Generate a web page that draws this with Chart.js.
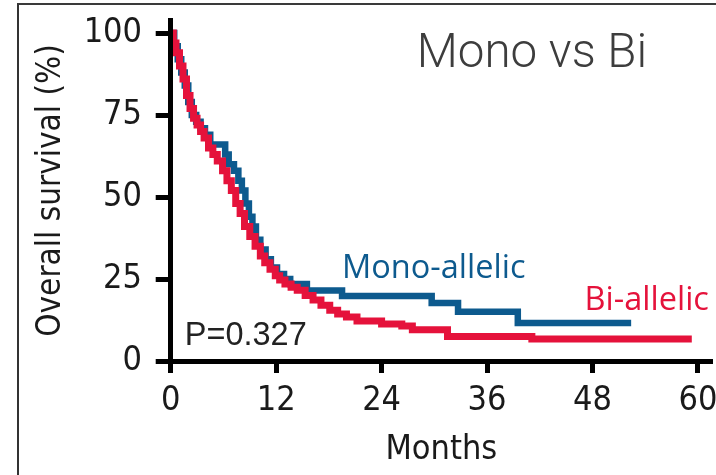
<!DOCTYPE html>
<html>
<head>
<meta charset="utf-8">
<script src="https://cdn.jsdelivr.net/npm/chart.js@4.4.1/dist/chart.umd.min.js"></script>
<style>
  html, body { margin: 0; padding: 0; background: #fff; overflow: hidden; }
  #frame { position: absolute; left: 17px; top: 3px; width: 800px; height: 600px;
           border-top: 2px solid #3a3a3a; border-left: 2px solid #333; }
  #wrap { position: absolute; left: 0; top: 0; width: 716px; height: 475px; }
</style>
</head>
<body>
<div id="frame"></div>
<div id="wrap"><canvas id="kmChart" width="716" height="475"></canvas></div>
<script>
// Kaplan-Meier: tháng theo dõi và % sống còn
const monoMonths = [0, 0.4, 0.8, 1.2, 1.6, 2.0, 2.4, 2.9, 3.4, 3.9, 4.5, 6.2, 6.6, 7.2, 7.7, 8.1, 8.5, 8.9, 9.3, 9.7, 10.2, 10.8, 11.4, 12.1, 12.9, 13.6, 15.5, 19.5, 29.7, 32.7, 39.5, 52.4];
const monoSurv   = [100, 96, 92, 88, 84, 79, 75, 73, 71, 69, 66, 63, 60, 58, 55, 52, 48, 44, 41, 37, 34, 31, 28.5, 26.5, 25, 23.5, 21.5, 19.8, 17.7, 15, 11.6, 11.6];

const biMonths = [0, 0.3, 0.6, 1.0, 1.4, 1.8, 2.2, 2.6, 3.0, 3.4, 3.8, 4.3, 4.8, 5.3, 5.9, 6.4, 6.9, 7.4, 7.9, 8.4, 9.0, 9.6, 10.2, 10.7, 11.3, 11.9, 12.4, 13.0, 13.7, 14.4, 15.3, 16.2, 17.1, 18.1, 19.0, 20.0, 21.2, 24.0, 26.3, 27.5, 31.5, 41.1, 59.3];
const biSurv   = [100, 97, 94, 90, 86, 81, 77, 74, 72, 70, 68, 65, 63, 61, 58, 55, 52, 48, 45, 41, 38, 35, 32, 30, 28, 26, 24.7, 23.5, 22.5, 21.6, 20, 18.6, 17, 15.5, 14.3, 13.4, 12.2, 11.3, 10.7, 9.5, 7.5, 6.7, 6.7];

const xTicks = [0, 12, 24, 36, 48, 60];
const yTicks = [0, 25, 50, 75, 100];

const toPoints = (xs, ys) => xs.map((x, i) => ({ x: x, y: ys[i] }));

const axisFont = { family: "'DejaVu Sans Condensed', 'Liberation Sans Narrow', 'DejaVu Sans', sans-serif", size: 34 };
const titleFont = { family: "'DejaVu Sans Condensed', 'Liberation Sans Narrow', 'DejaVu Sans', sans-serif", size: 33 };
const blue = "#0d5a8e";
const red = "#e5123b";

// ===== Chữ chú thích trên biểu đồ =====
const textLabels = {
    id: "textLabels",
    afterDatasetsDraw(chart) {
        const { ctx, scales: { x, y } } = chart;
        const put = (text, mx, vy, font, color) => {
            ctx.font = font;
            ctx.fillStyle = color;
            ctx.fillText(text, x.getPixelForValue(mx), y.getPixelForValue(vy));
        };
        ctx.save();
        ctx.textAlign = "left";
        ctx.textBaseline = "alphabetic";
        put("Mono vs Bi", 28.0, 89.6, "300 47.5px Roboto", "#3d3d3d");
        put("Mono-allelic", 19.5, 25.3, "32.5px 'Open Sans'", blue);
        put("Bi-allelic", 47.1, 15.5, "32.5px 'Open Sans'", red);
        put("P=0.327", 1.6, 4.9, "32.5px 'Liberation Sans'", "#222");
        ctx.restore();
    }
};

const ctx = document.getElementById("kmChart").getContext("2d");

new Chart(ctx, {
    type: "line",
    data: {
        datasets: [{
            label: "Bi-allelic",
            data: toPoints(biMonths, biSurv),
            borderColor: red,
            borderWidth: 7,
            stepped: true,
            pointRadius: 0,
            fill: false,
            order: 0
        }, {
            label: "Mono-allelic",
            data: toPoints(monoMonths, monoSurv),
            borderColor: blue,
            borderWidth: 6.5,
            stepped: true,
            pointRadius: 0,
            fill: false,
            order: 1
        }]
    },
    options: {
        responsive: false,
        animation: false,
        layout: { padding: { left: 0, right: 4, top: 20, bottom: 0 } },
        plugins: {
            legend: { display: false },
            tooltip: { enabled: false }
        },
        scales: {
            x: {
                type: "linear",
                min: 0,
                max: 61.6,
                afterBuildTicks: s => { s.ticks = xTicks.map(v => ({ value: v })); },
                afterFit: s => { s.height = 114; s.paddingLeft = 0; s.paddingRight = 0; },
                grid: { drawOnChartArea: false, drawTicks: true, tickLength: 12, tickWidth: 5, tickColor: "#000", z: 1 },
                border: { display: true, width: 5, color: "#000", z: 1 },
                ticks: { font: axisFont, color: "#1a1a1a", padding: 8, maxRotation: 0, autoSkip: false },
                title: { display: true, text: "Months", font: axisFont, color: "#1a1a1a", padding: { top: 0, bottom: 4 } }
            },
            y: {
                type: "linear",
                min: 0,
                max: 104,
                afterBuildTicks: s => { s.ticks = yTicks.map(v => ({ value: v })); },
                afterFit: s => { s.width = 170.7; s.paddingTop = 0; s.paddingBottom = 0; },
                grid: { drawOnChartArea: false, drawTicks: true, tickLength: 15, tickWidth: 5, tickColor: "#000", z: 1 },
                border: { display: true, width: 5, color: "#000", z: 1 },
                ticks: { font: axisFont, color: "#1a1a1a", padding: 13.7, autoSkip: false },
                title: { display: true, text: "Overall survival (%)", font: titleFont, color: "#1a1a1a", padding: { top: 32, bottom: 0 } }
            }
        }
    },
    plugins: [textLabels]
});
</script>
</body>
</html>
